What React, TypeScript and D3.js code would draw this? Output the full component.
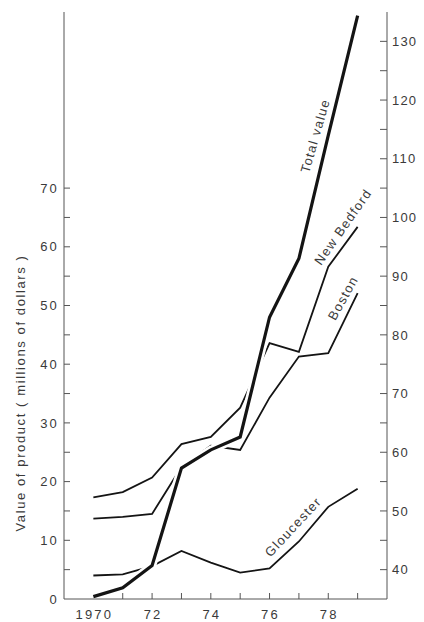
import React from "react";
import * as d3 from "d3";

const years = [1970, 1971, 1972, 1973, 1974, 1975, 1976, 1977, 1978, 1979];
const newBedford = [17.3, 18.2, 20.7, 26.4, 27.6, 32.6, 43.6, 42.1, 56.6, 63.4];
const boston = [13.7, 14.0, 14.5, 22.5, 26.1, 25.4, 34.3, 41.3, 41.9, 52.1];
const gloucester = [4.0, 4.2, 5.6, 8.2, 6.2, 4.5, 5.2, 9.8, 15.7, 18.8];
const totalValue = [35.4, 36.9, 40.7, 57.3, 60.4, 62.6, 83.0, 93.0, 114.0, 134.4];

const leftMinorTicks = [5, 10, 15, 20, 25, 30, 35, 40, 45, 50, 55, 60, 65, 70];
const leftLabels = [0, 10, 20, 30, 40, 50, 60, 70];
const rightMinorTicks = [40, 45, 50, 55, 60, 65, 70, 75, 80, 85, 90, 95, 100, 105, 110, 115, 120, 125, 130];
const rightLabels = [40, 50, 60, 70, 80, 90, 100, 110, 120, 130];
const xTickYears = [1971, 1972, 1973, 1974, 1975, 1976, 1977, 1978, 1979];
const xLabelYears = [1970, 1972, 1974, 1976, 1978];
const xLabelTexts = ["1970", "72", "74", "76", "78"];
const yTitle = "Value of product ( millions of dollars )";

const FONT = "'Liberation Sans', Arial, Helvetica, sans-serif";
const TEXT = "#3a3a3a";
const AXIS = "#555";
const LINE = "#141414";

export default function App() {
  const x = d3.scaleLinear().domain([1969, 1980]).range([64, 387]);
  const yL = d3.scaleLinear().domain([0, 100]).range([599, 12]);
  const yR = d3.scaleLinear().domain([35, 135]).range([599, 12]);

  const lineL = d3
    .line<number>()
    .x((_, i) => x(years[i]))
    .y((d) => yL(d));
  const lineR = d3
    .line<number>()
    .x((_, i) => x(years[i]))
    .y((d) => yR(d));

  const [x0, x1] = x.range();
  const [yb, yt] = yL.range();

  const labels = [
    { text: "Total value", year: 1977.55, v: yR(113.9), angle: -74 },
    { text: "New Bedford", year: 1978.5, v: yL(63.4), angle: -55 },
    { text: "Boston", year: 1978.5, v: yL(51.3), angle: -61 },
    { text: "Gloucester", year: 1976.8, v: yL(12.3), angle: -47 },
  ];

  return (
    <svg
      width={424}
      height={622}
      style={{ position: "absolute", left: 0, top: 0, background: "#fff" }}
      fontFamily={FONT}
    >
      <rect x={0} y={0} width={424} height={622} fill="#fff" />
      {/* city lines */}
      {[newBedford, boston, gloucester].map((s, i) => (
        <path
          key={i}
          d={lineL(s) || ""}
          fill="none"
          stroke={LINE}
          strokeWidth={1.8}
          strokeLinejoin="miter"
        />
      ))}
      {/* halo for total line */}
      <path d={lineR(totalValue) || ""} fill="none" stroke="#fff" strokeWidth={8.5} />
      <path
        d={lineR(totalValue) || ""}
        fill="none"
        stroke={LINE}
        strokeWidth={3.2}
        strokeLinejoin="miter"
      />

      {/* axes */}
      <line x1={x0} x2={x0} y1={yt} y2={yb} stroke={AXIS} strokeWidth={1} />
      <line x1={x1} x2={x1} y1={yt} y2={yb} stroke={AXIS} strokeWidth={1} />
      <line x1={x0} x2={x1} y1={yb} y2={yb} stroke={AXIS} strokeWidth={1} />

      {leftMinorTicks.map((t) => (
        <line key={"lt" + t} x1={x0} x2={x0 + 6} y1={yL(t)} y2={yL(t)} stroke={AXIS} strokeWidth={1} />
      ))}
      {rightMinorTicks.map((t) => (
        <line key={"rt" + t} x1={x1 - 7} x2={x1} y1={yR(t)} y2={yR(t)} stroke={AXIS} strokeWidth={1} />
      ))}
      {xTickYears.map((t) => (
        <line key={"xt" + t} x1={x(t)} x2={x(t)} y1={yb} y2={yb - 6} stroke={AXIS} strokeWidth={1} />
      ))}

      {leftLabels.map((t) => (
        <text
          key={"ll" + t}
          x={x0 - 5}
          y={yL(t)}
          dy="0.36em"
          textAnchor="end"
          fontSize={13}
          letterSpacing={2.2}
          fill={TEXT}
        >
          {t}
        </text>
      ))}
      {rightLabels.map((t) => (
        <text
          key={"rl" + t}
          x={x1 + 5}
          y={yR(t)}
          dy="0.36em"
          textAnchor="start"
          fontSize={13}
          letterSpacing={1.2}
          fill={TEXT}
        >
          {t}
        </text>
      ))}
      {xLabelYears.map((t, i) => (
        <text
          key={"xl" + t}
          x={x(t) + 1}
          y={619}
          textAnchor="middle"
          fontSize={13}
          letterSpacing={2.2}
          fill={TEXT}
        >
          {xLabelTexts[i]}
        </text>
      ))}

      <text
        transform={`translate(24.5, 393) rotate(-90)`}
        textAnchor="middle"
        fontSize={13}
        letterSpacing={1.6}
        fill={TEXT}
      >
        {yTitle}
      </text>

      {labels.map((l) => (
        <text
          key={l.text}
          transform={`translate(${x(l.year)}, ${l.v}) rotate(${l.angle})`}
          textAnchor="middle"
          dy="0.35em"
          fontSize={13}
          letterSpacing={1.3}
          fill={TEXT}
        >
          {l.text}
        </text>
      ))}
    </svg>
  );
}
